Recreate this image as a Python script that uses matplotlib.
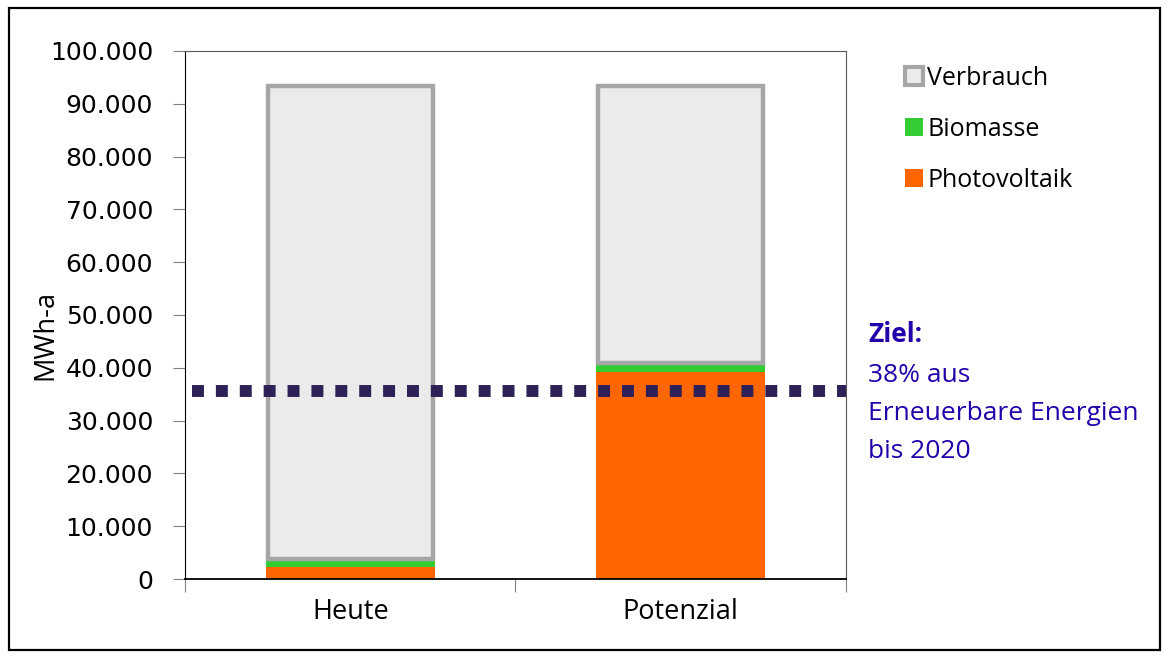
import matplotlib
matplotlib.use("Agg")
import matplotlib.pyplot as plt
from matplotlib.patches import Patch, Rectangle
from matplotlib.ticker import FuncFormatter

# values (MWh-a)
categories = ["Heute", "Potenzial"]
photovoltaik = [2200, 39200]
biomasse = [1200, 1400]
verbrauch_total = [93300, 93300]
ziel = 0.38 * 93700

orange = "#FF6600"
green = "#33CC33"
grey_fill = "#EBEBEB"
grey_edge = "#A6A6A6"
blue = "#2200AA"
label_font = ["Open Sans", "DejaVu Sans"]

fig = plt.figure(figsize=(11.68, 6.57), dpi=100)
ax = fig.add_axes([0.1584, 0.1187, 0.7243 - 0.1584, 0.9224 - 0.1187])

x = list(range(len(categories)))
w = 0.51
ax.bar(x, photovoltaik, w, color=orange, zorder=2)
ax.bar(x, biomasse, w, bottom=photovoltaik, color=green, zorder=2)
bottom3 = [p + b for p, b in zip(photovoltaik, biomasse)]
rest = [t - b for t, b in zip(verbrauch_total, bottom3)]
# the edge sits on the bar boundary, so shrink a little to keep the outer size
ax.bar(x, [r - 400 for r in rest], w - 0.012, bottom=[b + 400 for b in bottom3],
       color=grey_fill, edgecolor=grey_edge, linewidth=3.2, zorder=2)

# target line
ax.plot([-0.48, 1.5], [ziel, ziel], color="#2E2157", linewidth=8.6,
        linestyle=(0, (1, 1)), dash_capstyle="butt", zorder=3, clip_on=False)

ax.set_xlim(-0.5, 1.5)
ax.set_ylim(0, 100000)
ax.set_yticks(range(0, 100001, 10000))
ax.yaxis.set_major_formatter(FuncFormatter(lambda v, p: f"{int(v):,}".replace(",", ".")))
ax.tick_params(axis="y", labelsize=18, length=9, color="#808080", pad=14)

ax.set_xticks([-0.5, 0.5, 1.5])
ax.set_xticklabels([])
ax.set_xticks(x, minor=True)
ax.set_xticklabels(categories, minor=True, fontsize=19.5, family=label_font)
ax.tick_params(axis="x", which="major", length=9, color="#808080")
ax.tick_params(axis="x", which="minor", length=0, pad=14)

for s in ["top", "right"]:
    ax.spines[s].set_color("#595959")
ax.spines["left"].set_color("black")
ax.spines["bottom"].set_color("black")
ax.spines["bottom"].set_linewidth(1.3)

ax.set_ylabel("MWh-a", fontsize=19.5, family=label_font)
ax.yaxis.set_label_coords(-0.19, 0.462)

handles = [Patch(facecolor=grey_fill, edgecolor=grey_edge, linewidth=3),
           Patch(facecolor=green), Patch(facecolor=orange)]
ax.legend(handles, ["Verbrauch", "Biomasse", "Photovoltaik"], loc="upper left",
          bbox_to_anchor=(1.056, 1.015), frameon=False, handlelength=0.72,
          handleheight=0.72, handletextpad=0.15, labelspacing=1.05,
          prop={"family": label_font, "size": 18})

fig.text(868 / 1168, 1 - 335 / 657, "Ziel:", color=blue, fontsize=19,
         fontweight="bold", family=label_font, va="center")
fig.text(868 / 1168, 1 - 376 / 657, "38% aus", color=blue, fontsize=19,
         family=label_font, va="center")
fig.text(868 / 1168, 1 - 414 / 657, "Erneuerbare Energien", color=blue,
         fontsize=19, family=label_font, va="center")
fig.text(868 / 1168, 1 - 452 / 657, "bis 2020", color=blue, fontsize=19,
         family=label_font, va="center")

fig.patches.append(Rectangle((9 / 1168, 7 / 657), 1151 / 1168, 642 / 657,
                             transform=fig.transFigure, fill=False,
                             edgecolor="black", linewidth=1.6))

fig.savefig("out.png", dpi=100)
